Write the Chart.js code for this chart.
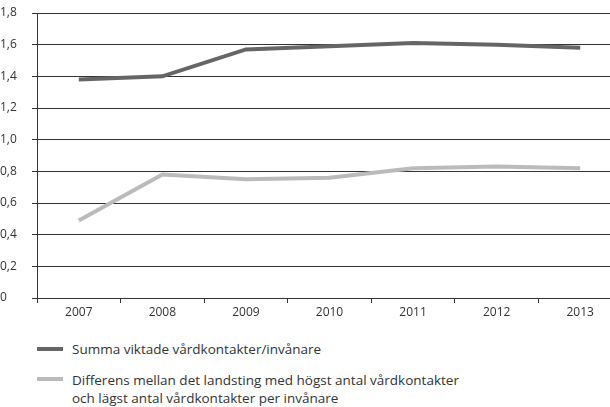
<!DOCTYPE html>
<html>
<head>
<meta charset="utf-8">
<script src="https://cdn.jsdelivr.net/npm/chart.js@4"></script>
<style>
  html, body { margin: 0; padding: 0; background: #fff; overflow: hidden; width: 610px; height: 407px; }
  #wrap { position: absolute; left: 0; top: 0; width: 622px; height: 323px; }
  .leg { position: absolute; left: 72px; font-family: "Open Sans", sans-serif; font-size: 13.5px; color: #333; line-height: 18px; }
  .sw { position: absolute; left: 37px; width: 26px; height: 4px; }
</style>
</head>
<body>
<div id="wrap"><canvas id="myChart"></canvas></div>
<div class="sw" style="top:347px;background:#666"></div>
<div class="leg" style="top:340px">Summa viktade vårdkontakter/invånare</div>
<div class="sw" style="top:377px;background:#bbb"></div>
<div class="leg" style="top:371px">Differens mellan det landsting med högst antal vårdkontakter<br>och lägst antal vårdkontakter per invånare</div>
<script>
const years = ['2007', '2008', '2009', '2010', '2011', '2012', '2013'];
const summaViktade = [1.38, 1.40, 1.57, 1.59, 1.61, 1.60, 1.58];
const differens = [0.49, 0.78, 0.75, 0.76, 0.82, 0.83, 0.82];

const ctx = document.getElementById('myChart').getContext('2d');
const myChart = new Chart(ctx, {
    type: 'line',
    data: {
        labels: years,
        datasets: [{
            label: 'Summa viktade vårdkontakter/invånare',
            data: summaViktade,
            borderColor: '#666',
            borderWidth: 4,
            pointRadius: 0,
            tension: 0
        }, {
            label: 'Differens mellan det landsting med högst antal vårdkontakter och lägst antal vårdkontakter per invånare',
            data: differens,
            borderColor: '#bbb',
            borderWidth: 4,
            pointRadius: 0,
            tension: 0
        }]
    },
    options: {
        responsive: true,
        maintainAspectRatio: false,
        animation: false,
        layout: { padding: { top: 13, right: 0, left: 0, bottom: 0 } },
        plugins: { legend: { display: false }, tooltip: { enabled: false } },
        scales: {
            x: {
                offset: true,
                grid: { display: true, drawOnChartArea: false, offset: true, tickLength: 5, color: '#333' },
                border: { display: true, color: '#333', width: 1 },
                ticks: { color: '#333', font: { family: 'Open Sans', size: 12 }, padding: 2, maxRotation: 0 },
                afterFit: (scale) => { scale.height = 25; }
            },
            y: {
                min: 0,
                max: 1.8,
                ticks: {
                    stepSize: 0.2,
                    color: '#333',
                    crossAlign: 'far',
                    font: { family: 'Open Sans', size: 12 },
                    callback: (v) => v === 0 ? '0' : v.toFixed(1).replace('.', ',')
                },
                grid: { color: '#333', lineWidth: 1, tickLength: 5 },
                border: { display: true, color: '#333', width: 1 },
                afterFit: (scale) => { scale.width = 37; }
            }
        }
    }
});
</script>
</body>
</html>
